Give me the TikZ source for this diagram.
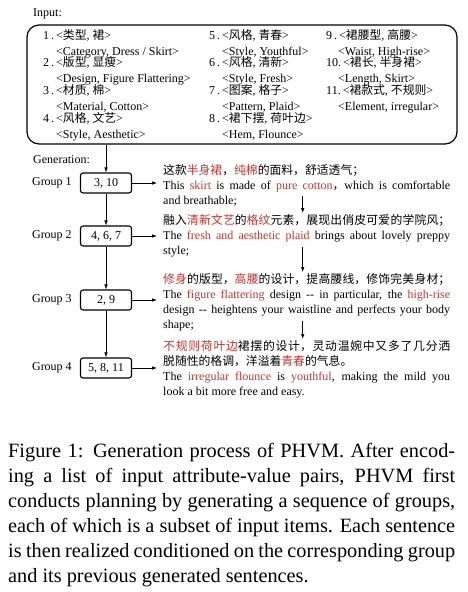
\documentclass[tikz,border=0pt]{standalone}
\usepackage{fontspec}
\setmainfont{Liberation Serif}
\newfontfamily\cjk{Noto Sans CJK SC}[Scale=0.985]
\usetikzlibrary{arrows.meta,positioning}
\definecolor{hlred}{RGB}{200,50,42}
\newcommand{\hl}[1]{\textcolor{hlred}{#1}}
\newcommand{\zh}[1]{{\cjk\XeTeXlinebreaklocale "zh"\XeTeXlinebreakskip=0pt plus 2pt\relax #1}}
\newcommand{\inum}[1]{\ifnum#1>9 #1.\else#1\,.\fi}

\begin{document}
\begin{tikzpicture}[x=1pt,y=-1pt,
    every node/.style={font=\fontsize{12}{15}\selectfont, inner sep=0pt},
    arr/.style={-{Latex[length=5pt,width=3.5pt]}, line width=0.6pt},
    grp/.style={draw, line width=1.1pt, rounded corners=2.5pt, minimum width=51pt, minimum height=20pt},
    sent/.style={anchor=north west, text width=287pt, align=justify}]
    \useasboundingbox (0,0) rectangle (468,592);

    \node[anchor=base west] (inlab) at (33,16) {Input:};
    \node[draw, line width=1.2pt, rounded corners=12pt, minimum width=430pt, minimum height=119pt] (input) at (242,84.5) {};

    \foreach \n/\ka/\kb/\en [count=\r from 0] in {1/类型/裙/{Category, Dress / Skirt}, 2/版型/显瘦/{Design, Figure Flattering}, 3/材质/棉/{Material, Cotton}, 4/风格/文艺/{Style, Aesthetic}}
        {\node[anchor=base west] (k\n) at (43,39+27.7*\r) {\inum{\n}\,<\zh{\ka}, \zh{\kb}>};
         \node[anchor=base west] (v\n) at (56,55+27.7*\r) {<\en>};}
    \foreach \n/\ka/\kb/\en [count=\r from 0] in {5/风格/青春/{Style, Youthful}, 6/风格/清新/{Style, Fresh}, 7/图案/格子/{Pattern, Plaid}, 8/裙下摆/荷叶边/{Hem, Flounce}}
        {\node[anchor=base west] (k\n) at (209,39+27.7*\r) {\inum{\n}\,<\zh{\ka}, \zh{\kb}>};
         \node[anchor=base west] (v\n) at (222,55+27.7*\r) {<\en>};}
    \foreach \n/\ka/\kb/\en [count=\r from 0] in {9/裙腰型/高腰/{Waist, High-rise}, 10/裙长/半身裙/{Length, Skirt}, 11/裙款式/不规则/{Element, irregular}}
        {\node[anchor=base west] (k\n) at (326,39+27.7*\r) {\inum{\n}\,<\zh{\ka}, \zh{\kb}>};
         \node[anchor=base west] (v\n) at (338,55+27.7*\r) {<\en>};}

    \node[anchor=base west] (genlab) at (33,163) {Generation:};

    \foreach \i/\y/\s in {1/183/{3, 10}, 2/236/{4, 6, 7}, 3/300/{2, 9}, 4/368/{5, 8, 11}}
        {\node[grp] (g\i) at (106,\y) {\s};
         \node[left=8pt of g\i] (l\i) {Group \i};}

    \node[sent] (t1) at (163,164) {\zh{这款\hl{半身裙}，\hl{纯棉}的面料，舒适透气；}\\
        This \hl{skirt} is made of \hl{pure cotton}\zh{，}which is comfortable\linebreak and breathable;};
    \node[sent] (t2) at (163,214) {\zh{融入\hl{清新文艺}的\hl{格纹}元素，展现出俏皮可爱的学院风；}\linebreak
        The \hl{fresh and aesthetic plaid} brings about lovely preppy\linebreak style;};
    \node[sent] (t3) at (163,273) {\zh{\hl{修身}的版型，\hl{高腰}的设计，提高腰线，修饰完美身材；}\linebreak
        The \hl{figure flattering} design -{}- in particular, the \hl{high-rise}\linebreak design -{}- heightens your waistline and perfects your body\linebreak shape;};
    \node[sent] (t4) at (163,340) {\zh{\hl{不规则荷叶边}裙摆的设计，灵动温婉中又多了几分洒}\linebreak
        \zh{脱随性的格调，洋溢着\hl{青春}的气息。}\\
        The \hl{irregular flounce} is \hl{youthful}, making the mild you\linebreak look a bit more free and easy.};

    \draw[arr] (input.south -| g1) -- (g1);
    \foreach \i/\j in {1/2, 2/3, 3/4}
        {\draw[arr] (g\i) -- (g\j);
         \draw[arr] ([xshift=-4pt,yshift=10pt]t\i.south) -- ([xshift=-4pt,yshift=1pt]t\j.north);}
    \foreach \i in {1,...,4}
        {\draw[arr, shorten >=6pt] (g\i) -- (g\i -| t\i.west);}

    \node[anchor=north west, text width=447pt, align=justify, font=\fontsize{20.3}{25}\selectfont] (cap) at (8,443)
        {Figure 1: Generation process of PHVM. After encod-\linebreak
        ing a list of input attribute-value pairs, PHVM first\linebreak
        conducts planning by generating a sequence of groups,\linebreak
        each of which is a subset of input items. Each sentence\linebreak
        is then realized conditioned on the corresponding group\linebreak
        and its previous generated sentences.};
\end{tikzpicture}
\end{document}
